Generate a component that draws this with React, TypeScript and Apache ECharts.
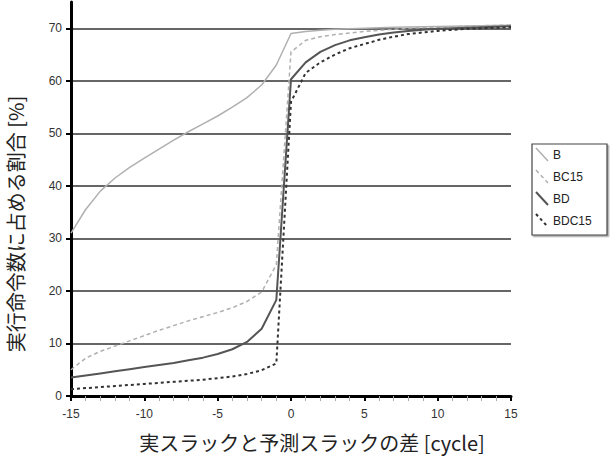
import React, { useEffect, useRef } from "react";
import * as echarts from "echarts";

const xValues = [-15, -14, -13, -12, -11, -10, -9, -8, -7, -6, -5, -4, -3, -2, -1, 0, 1, 2, 3, 4, 5, 6, 7, 8, 9, 10, 11, 12, 13, 14, 15];
const seriesB = [31, 35.5, 39, 41.5, 43.5, 45.3, 47, 48.7, 50.3, 51.8, 53.3, 55, 56.8, 59.2, 63, 69, 69.4, 69.6, 69.8, 69.9, 70.0, 70.1, 70.2, 70.25, 70.3, 70.35, 70.4, 70.45, 70.5, 70.55, 70.6];
const seriesBC15 = [5, 7.2, 8.5, 9.5, 10.5, 11.5, 12.5, 13.4, 14.3, 15.1, 15.9, 16.8, 18, 19.8, 25, 65.5, 67.7, 68.4, 68.8, 69.1, 69.4, 69.6, 69.8, 70.0, 70.1, 70.2, 70.3, 70.4, 70.5, 70.55, 70.6];
const seriesBD = [3.5, 3.9, 4.3, 4.7, 5.1, 5.5, 5.9, 6.3, 6.8, 7.3, 8.0, 8.9, 10.3, 12.8, 18.3, 60.3, 63.5, 65.5, 66.8, 67.7, 68.3, 68.8, 69.2, 69.5, 69.7, 69.9, 70.0, 70.1, 70.2, 70.3, 70.4];
const seriesBDC15 = [1.3, 1.5, 1.7, 1.9, 2.1, 2.3, 2.5, 2.7, 2.9, 3.1, 3.4, 3.7, 4.2, 4.9, 6.2, 56, 61.5, 63.5, 65, 66.2, 67, 67.8, 68.4, 68.9, 69.2, 69.5, 69.7, 69.9, 70.0, 70.1, 70.2];
const yTicks = [0, 10, 20, 30, 40, 50, 60, 70];
const seriesNames = ["B", "BC15", "BD", "BDC15"];
const xAxisTitle = "実スラックと予測スラックの差 [cycle]";
const yAxisTitle = "実行命令数に占める割合 [%]";

const colors = ["#b0b0b0", "#b0b0b0", "#555555", "#333333"];
const dashes: any[] = ["solid", [4, 3], "solid", [3, 3]];
const widths = [1.5, 1.5, 2, 2];
const latin = "Liberation Sans";

const pairs = (ys: number[]) => xValues.map((x, i) => [x, ys[i]]);

export default function App() {
  const ref = useRef<HTMLDivElement>(null);
  useEffect(() => {
    if (!ref.current) return;
    const chart = echarts.init(ref.current, undefined, { renderer: "svg" });
    const allData = [seriesB, seriesBC15, seriesBD, seriesBDC15];
    const legendGraphics: any[] = [
      {
        type: "rect",
        shape: { x: 532, y: 144, width: 75, height: 91 },
        style: { fill: "#fff", stroke: "#444", lineWidth: 1.2, shadowColor: "rgba(0,0,0,0.35)", shadowOffsetX: 1.5, shadowOffsetY: 1.5, shadowBlur: 1 },
        z: 10,
      },
    ];
    seriesNames.forEach((n, i) => {
      const cy = 155 + i * 22;
      legendGraphics.push({
        type: "line",
        shape: { x1: 536, y1: cy - 7, x2: 548, y2: cy + 6 },
        style: { stroke: colors[i], lineWidth: widths[i], lineDash: dashes[i] === "solid" ? null : dashes[i] },
        z: 11,
      });
      legendGraphics.push({
        type: "text",
        x: 553,
        y: cy,
        style: { text: n, fill: "#222", fontSize: 12, fontFamily: latin, textVerticalAlign: "middle" },
        z: 11,
      });
    });
    chart.setOption({
      animation: false,
      grid: { left: 71, right: 101, top: 2, bottom: 66 },
      xAxis: {
        type: "value",
        min: -15,
        max: 15,
        interval: 5,
        axisLine: { onZero: false, lineStyle: { color: "#000", width: 3 } },
        axisTick: { show: true, length: 5, lineStyle: { color: "#000", width: 2 } },
        minorTick: { show: true, splitNumber: 5, length: 5, lineStyle: { color: "#aaa", width: 1 } },
        splitLine: { show: false },
        axisLabel: { fontSize: 12, color: "#333", margin: 12, fontFamily: latin },
      },
      yAxis: {
        type: "value",
        min: 0,
        max: 75,
        axisLine: { show: true, onZero: false, lineStyle: { color: "#000", width: 3 } },
        axisTick: { show: true, length: 5, customValues: yTicks, lineStyle: { color: "#000", width: 2 } },
        axisLabel: { customValues: yTicks, fontSize: 12, color: "#333", margin: 9, fontFamily: latin },
        splitLine: { show: true, lineStyle: { color: "#333", width: 1.5 } },
      },
      graphic: [
        {
          type: "text",
          x: 312,
          y: 442,
          style: { text: xAxisTitle, fill: "#222", fontSize: 20, fontFamily: "Noto Sans CJK JP", textAlign: "center", textVerticalAlign: "middle" },
        },
        {
          type: "text",
          x: 15,
          y: 224,
          rotation: Math.PI / 2,
          style: { text: yAxisTitle, fill: "#222", fontSize: 20, fontFamily: "Noto Sans CJK JP", textAlign: "center", textVerticalAlign: "middle" },
        },
        ...legendGraphics,
      ],
      series: seriesNames.map((n, i) => ({
        name: n,
        type: "line",
        showSymbol: false,
        data: pairs(allData[i]),
        lineStyle: { color: colors[i], width: widths[i], type: dashes[i] },
        itemStyle: { color: colors[i] },
        z: 3 + i,
      })),
    });
    return () => chart.dispose();
  }, []);
  return <div ref={ref} style={{ width: 612, height: 462, position: "absolute", left: 0, top: 0 }} />;
}
